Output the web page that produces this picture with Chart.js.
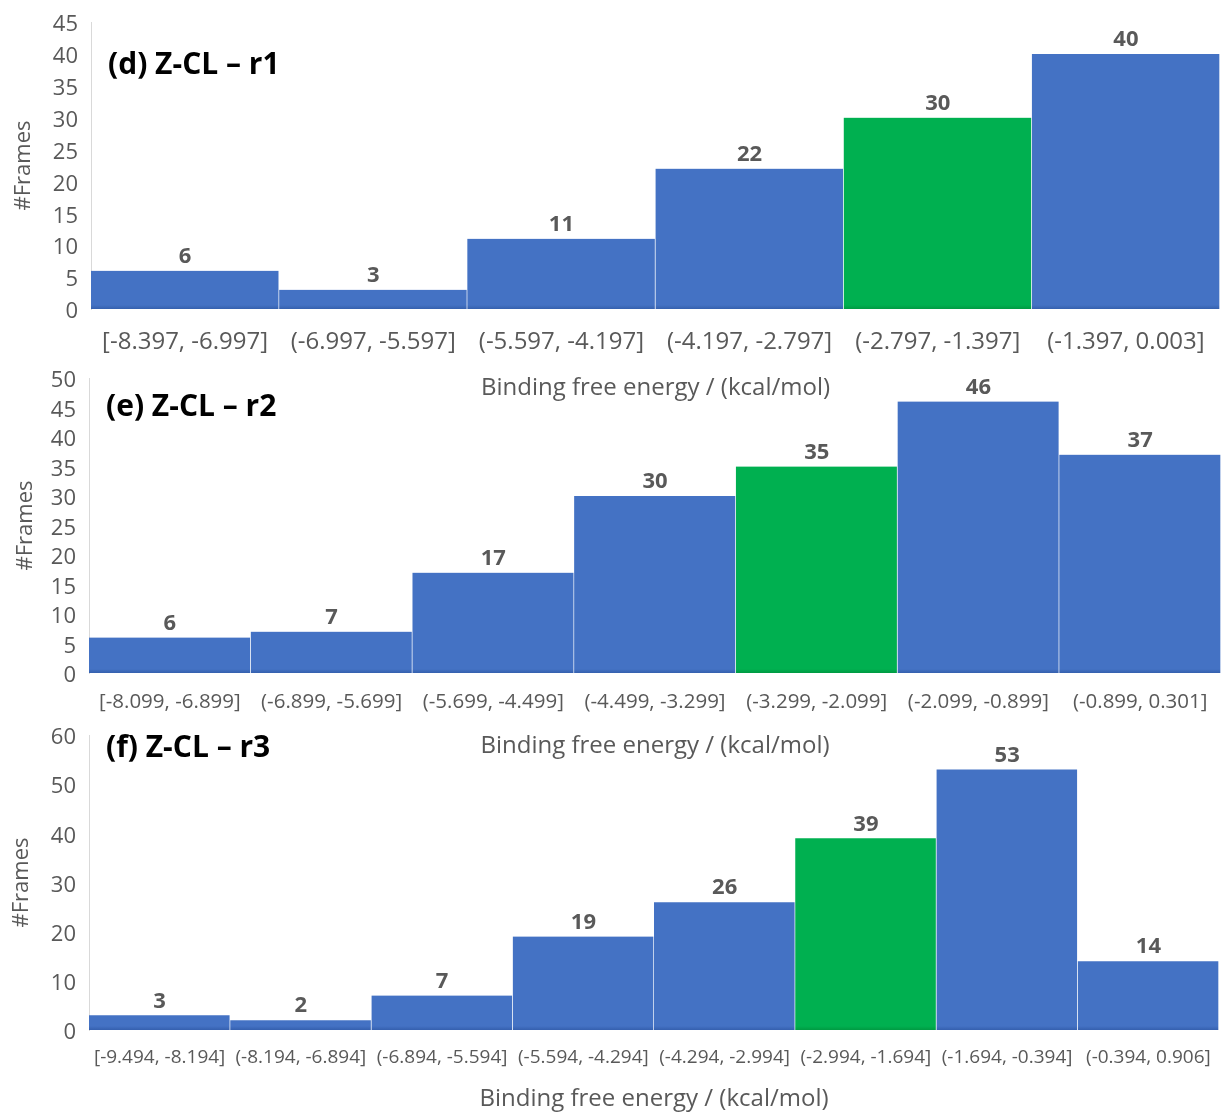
<!DOCTYPE html>
<html>
<head>
<meta charset="utf-8">
<script src="https://cdn.jsdelivr.net/npm/chart.js@4.4.1/dist/chart.umd.min.js"></script>
<style>
  html, body { margin: 0; padding: 0; background: #fff; }
  body { width: 1221px; height: 1112px; position: relative; overflow: hidden; }
  .panel { position: absolute; left: 0; width: 1221px; }
</style>
</head>
<body>
<div class="panel" style="top:0;height:406px"><canvas id="chartR1"></canvas></div>
<div class="panel" style="top:360px;height:402px"><canvas id="chartR2"></canvas></div>
<div class="panel" style="top:720px;height:396px"><canvas id="chartR3"></canvas></div>
<script>
// Dữ liệu (d) Z-CL – r1
const r1Bins = ["[-8.397, -6.997]", "(-6.997, -5.597]", "(-5.597, -4.197]", "(-4.197, -2.797]", "(-2.797, -1.397]", "(-1.397, 0.003]"];
const r1Frames = [6, 3, 11, 22, 30, 40];
const r1Green = 4;

// Dữ liệu (e) Z-CL – r2
const r2Bins = ["[-8.099, -6.899]", "(-6.899, -5.699]", "(-5.699, -4.499]", "(-4.499, -3.299]", "(-3.299, -2.099]", "(-2.099, -0.899]", "(-0.899, 0.301]"];
const r2Frames = [6, 7, 17, 30, 35, 46, 37];
const r2Green = 4;

// Dữ liệu (f) Z-CL – r3
const r3Bins = ["[-9.494, -8.194]", "(-8.194, -6.894]", "(-6.894, -5.594]", "(-5.594, -4.294]", "(-4.294, -2.994]", "(-2.994, -1.694]", "(-1.694, -0.394]", "(-0.394, 0.906]"];
const r3Frames = [3, 2, 7, 19, 26, 39, 53, 14];
const r3Green = 5;

const panelTitles = ["(d) Z-CL \u2013 r1", "(e) Z-CL \u2013 r2", "(f) Z-CL \u2013 r3"];
const yMaxes = [45, 50, 60];
const ySteps = [5, 5, 10];

const BLUE = "#4472C4";
const BLUE_DARK = "#3560AE";
const GREEN = "#00B050";
const GREEN_DARK = "#009A42";
const GREY = "#595959";
const FONT = "'Open Sans', sans-serif";

// Vẽ số liệu trên cột và tiêu đề panel
const barValuePlugin = {
  id: "barValues",
  afterDatasetsDraw(chart, args, opts) {
    const ctx = chart.ctx;
    const meta = chart.getDatasetMeta(0);
    ctx.save();
    ctx.fillStyle = GREY;
    ctx.font = "bold " + opts.size + "px " + FONT;
    ctx.textAlign = "center";
    ctx.textBaseline = "middle";
    meta.data.forEach((bar, i) => {
      ctx.fillText(String(chart.data.datasets[0].data[i]), bar.x, bar.y - opts.gap);
    });
    ctx.fillStyle = "#000";
    ctx.font = "bold " + opts.titleSize + "px " + FONT;
    ctx.textAlign = "left";
    ctx.fillText(opts.title, chart.chartArea.left + 17, opts.titleY);
    ctx.restore();
  },
};

// Màu cột có dải tối ở chân cột
function barFill(greenIndex) {
  return function (context) {
    const isGreen = context.dataIndex === greenIndex;
    const base = isGreen ? GREEN : BLUE;
    const area = context.chart.chartArea;
    if (!area) return base;
    const g = context.chart.ctx.createLinearGradient(0, area.bottom - 4, 0, area.bottom);
    g.addColorStop(0, base);
    g.addColorStop(1, isGreen ? GREEN_DARK : BLUE_DARK);
    return g;
  };
}

function makePanel(id, bins, frames, greenIndex, idx, geo) {
  return new Chart(document.getElementById(id), {
    type: "bar",
    data: {
      labels: bins,
      datasets: [
        {
          data: frames,
          backgroundColor: barFill(greenIndex),
          borderColor: "#ffffff",
          borderWidth: { top: 0, right: 1, bottom: 0, left: 0 },
          categoryPercentage: 1,
          barPercentage: 1,
        },
      ],
    },
    options: {
      responsive: true,
      maintainAspectRatio: false,
      animation: false,
      layout: { padding: { top: geo.padTop, right: geo.padRight, bottom: 0, left: 0 } },
      plugins: {
        legend: { display: false },
        tooltip: { enabled: false },
        barValues: { size: 22, gap: 14, title: panelTitles[idx], titleSize: 30, titleY: geo.titleY },
      },
      scales: {
        x: {
          // tickLength làm khoảng cách nhãn, không vẽ vạch
          grid: { display: false, drawTicks: true, tickLength: geo.xTickPad },
          border: { display: false },
          ticks: {
            color: GREY,
            font: { family: FONT, size: geo.xTick },
            padding: 0,
            maxRotation: 0,
            autoSkip: false,
          },
          title: {
            display: true,
            text: "Binding free energy / (kcal/mol)",
            color: GREY,
            font: { family: FONT, size: 24 },
            padding: { top: 0, bottom: geo.xTitlePad },
          },
          afterFit: (s) => { s.height = geo.xHeight; },
        },
        y: {
          min: 0,
          max: yMaxes[idx],
          ticks: {
            stepSize: ySteps[idx],
            color: GREY,
            font: { family: FONT, size: 22 },
            padding: 0,
            labelOffset: 3,
            autoSkip: false,
          },
          grid: { display: false, drawTicks: true, tickLength: 13 },
          border: { display: true, color: "#D9D9D9", width: 1 },
          title: {
            display: true,
            text: "#Frames",
            color: GREY,
            font: { family: FONT, size: 22 },
            padding: { top: geo.yTitlePad, bottom: 0 },
          },
          afterFit: (s) => { s.width = geo.yWidth; },
        },
      },
    },
    plugins: [barValuePlugin],
  });
}

makePanel("chartR1", r1Bins, r1Frames, r1Green, 0, {
  padTop: 22, padRight: 1, xHeight: 97, xTick: 24, xTickPad: 19, xTitlePad: 3,
  yWidth: 91, yTitlePad: 11, titleY: 65,
});
makePanel("chartR2", r2Bins, r2Frames, r2Green, 1, {
  padTop: 18, padRight: 0, xHeight: 89, xTick: 20.5, xTickPad: 17, xTitlePad: 1,
  yWidth: 89, yTitlePad: 13, titleY: 47,
});
makePanel("chartR3", r3Bins, r3Frames, r3Green, 2, {
  padTop: 15, padRight: 2, xHeight: 86, xTick: 19, xTickPad: 16, xTitlePad: 2,
  yWidth: 89, yTitlePad: 9, titleY: 28,
});
</script>
</body>
</html>
